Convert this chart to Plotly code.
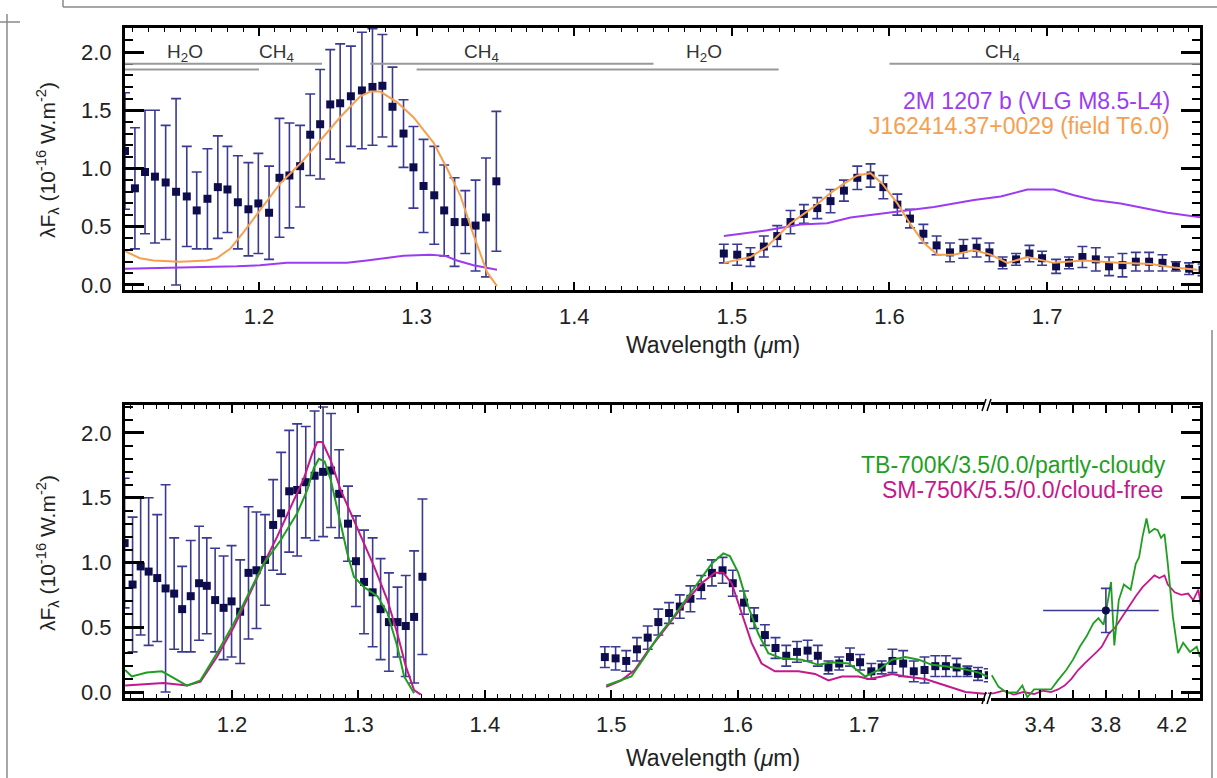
import plotly.graph_objects as go

W, H = 1217, 778

# ---------------- data: observed spectrum ----------------
j_wl = [1.1150, 1.1213, 1.1277, 1.1340, 1.1408, 1.1474, 1.1542, 1.1605, 1.1673, 1.1739,
        1.1800, 1.1866, 1.1933, 1.1996, 1.2064, 1.2130, 1.2193, 1.2261, 1.2325, 1.2388,
        1.2452, 1.2515, 1.2583, 1.2653, 1.2720, 1.2783, 1.2847, 1.2917, 1.2980, 1.3044,
        1.3112, 1.3175, 1.3241, 1.3309, 1.3374, 1.3440, 1.3506]
j_flux = [1.15, 0.83, 0.97, 0.93, 0.88, 0.80, 0.76, 0.64, 0.74, 0.84,
          0.82, 0.71, 0.65, 0.70, 0.62, 0.92, 0.94, 1.02, 1.29, 1.38,
          1.55, 1.56, 1.62, 1.67, 1.70, 1.71, 1.53, 1.30, 1.01, 0.85,
          0.77, 0.64, 0.54, 0.54, 0.51, 0.58, 0.89]
j_err = [0.50, 0.52, 0.53, 0.57, 0.49, 0.80, 0.43, 0.33, 0.43, 0.44,
         0.37, 0.40, 0.40, 0.43, 0.40, 0.51, 0.45, 0.35, 0.35, 0.47,
         0.47, 0.51, 0.43, 0.50, 0.50, 0.44, 0.34, 0.29, 0.35, 0.40,
         0.42, 0.39, 0.38, 0.27, 0.39, 0.51, 0.60]

h_wl = [1.4949, 1.5034, 1.5118, 1.5203, 1.5288, 1.5372, 1.5457, 1.5542, 1.5626, 1.5711,
        1.5796, 1.5880, 1.5961, 1.6050, 1.6130, 1.6215, 1.6299, 1.6384, 1.6469, 1.6553,
        1.6634, 1.6718, 1.6803, 1.6888, 1.6968, 1.7057, 1.7139, 1.7224, 1.7309, 1.7393,
        1.7478, 1.7563, 1.7647, 1.7732, 1.7817, 1.7901, 1.7986]
h_flux = [0.27, 0.26, 0.24, 0.33, 0.42, 0.54, 0.61, 0.66, 0.72, 0.81,
          0.92, 0.94, 0.84, 0.69, 0.57, 0.44, 0.34, 0.28, 0.31, 0.32,
          0.28, 0.19, 0.22, 0.27, 0.23, 0.16, 0.19, 0.24, 0.22, 0.16,
          0.17, 0.20, 0.20, 0.19, 0.16, 0.14, 0.13]
h_err = [0.08, 0.09, 0.08, 0.09, 0.09, 0.10, 0.08, 0.09, 0.10, 0.09,
         0.10, 0.10, 0.10, 0.09, 0.08, 0.08, 0.08, 0.08, 0.08, 0.08,
         0.08, 0.05, 0.05, 0.07, 0.06, 0.06, 0.05, 0.09, 0.10, 0.08,
         0.10, 0.08, 0.08, 0.07, 0.04, 0.05, 0.05]

l_wl = [3.80]
l_flux = [0.63]
l_err = [0.17]
l_wl_plus = [0.32]
l_wl_minus = [0.38]

# ---------------- comparison objects (top panel) ----------------
m1207_j_wl = [1.115, 1.1542, 1.1859, 1.2007, 1.2177, 1.2304, 1.243, 1.2558, 1.2685, 1.2812,
              1.2917, 1.3087, 1.3182, 1.3256, 1.3361, 1.351]
m1207_j_fl = [0.14, 0.15, 0.16, 0.17, 0.19, 0.19, 0.19, 0.19, 0.21, 0.23,
              0.25, 0.26, 0.25, 0.21, 0.17, 0.13]
m1207_h_wl = [1.4949, 1.5224, 1.5436, 1.5605, 1.5753, 1.5986, 1.6282, 1.6536, 1.6706, 1.6875,
              1.7044, 1.7171, 1.7298, 1.7467, 1.7658, 1.7764, 1.7975]
m1207_h_fl = [0.42, 0.47, 0.52, 0.53, 0.58, 0.62, 0.67, 0.73, 0.76, 0.82,
              0.82, 0.77, 0.73, 0.70, 0.65, 0.62, 0.58]

t6_j_wl = [1.115, 1.1245, 1.133, 1.15, 1.1669, 1.1732, 1.1817, 1.19, 1.2028, 1.2134,
           1.2261, 1.2388, 1.2515, 1.2642, 1.2706, 1.2769, 1.2875, 1.298, 1.3108, 1.3193,
           1.3277, 1.3361, 1.3447, 1.351]
t6_j_fl = [0.29, 0.23, 0.21, 0.20, 0.21, 0.23, 0.31, 0.45, 0.68, 0.87,
           1.04, 1.24, 1.44, 1.62, 1.66, 1.66, 1.57, 1.44, 1.22, 1.00,
           0.77, 0.43, 0.11, -0.01]
t6_h_wl = [1.4949, 1.5118, 1.5224, 1.5372, 1.552, 1.5626, 1.5711, 1.5796, 1.588, 1.5954,
           1.605, 1.6134, 1.6219, 1.6304, 1.6409, 1.6536, 1.6642, 1.6748, 1.6875, 1.7042,
           1.7233, 1.7446, 1.7658, 1.7804, 1.7954]
t6_h_fl = [0.19, 0.24, 0.33, 0.53, 0.67, 0.79, 0.87, 0.94, 0.96, 0.87,
           0.70, 0.52, 0.36, 0.26, 0.26, 0.30, 0.26, 0.19, 0.24, 0.19,
           0.21, 0.19, 0.18, 0.15, 0.13]

# ---------------- atmosphere models (bottom panel) ----------------
sm_j_wl = [1.1154, 1.1273, 1.1458, 1.1643, 1.175, 1.188, 1.2013, 1.2145, 1.225, 1.2357,
           1.2462, 1.2568, 1.2634, 1.2674, 1.2714, 1.278, 1.2859, 1.2938, 1.3017, 1.3123,
           1.3229, 1.3308, 1.3374, 1.344, 1.3493]
sm_j_fl = [0.05, 0.06, 0.07, 0.05, 0.08, 0.27, 0.50, 0.77, 0.99, 1.20,
           1.43, 1.65, 1.84, 1.93, 1.93, 1.79, 1.56, 1.38, 1.20, 0.97,
           0.71, 0.45, 0.20, 0.015, -0.02]
tb_j_wl = [1.1154, 1.1207, 1.1326, 1.1445, 1.1537, 1.1643, 1.175, 1.188, 1.2013, 1.2145,
           1.225, 1.2383, 1.2515, 1.2595, 1.2647, 1.2687, 1.2732, 1.278, 1.2846, 1.2912,
           1.2964, 1.3044, 1.315, 1.3229, 1.3308, 1.3361, 1.344]
tb_j_fl = [0.17, 0.12, 0.15, 0.16, 0.11, 0.05, 0.09, 0.30, 0.53, 0.79,
           0.99, 1.17, 1.38, 1.56, 1.73, 1.80, 1.78, 1.64, 1.35, 1.07,
           0.89, 0.81, 0.74, 0.61, 0.35, 0.12, -0.01]

sm_h_wl = [1.4960, 1.5079, 1.5185, 1.5291, 1.5397, 1.5502, 1.5608, 1.5714, 1.5819, 1.5886,
           1.5952, 1.6031, 1.6110, 1.6189, 1.6295, 1.6481, 1.6612, 1.6718, 1.6824, 1.6956,
           1.7036, 1.7141, 1.7220, 1.7326, 1.7484, 1.7643, 1.7802, 1.7974]
sm_h_fl = [0.04, 0.09, 0.17, 0.32, 0.45, 0.58, 0.72, 0.84, 0.92, 0.92,
           0.84, 0.61, 0.38, 0.22, 0.16, 0.16, 0.14, 0.09, 0.12, 0.12,
           0.10, 0.12, 0.14, 0.12, 0.10, 0.05, 0.00, -0.015]
tb_h_wl = [1.4960, 1.5053, 1.5159, 1.5264, 1.5370, 1.5476, 1.5581, 1.5687, 1.5793, 1.5886,
           1.5938, 1.6005, 1.6084, 1.6163, 1.6242, 1.6347, 1.6506, 1.6639, 1.6744, 1.6877,
           1.7009, 1.7115, 1.7220, 1.7326, 1.7432, 1.7537, 1.7643, 1.7775, 1.7908, 1.7974]
tb_h_fl = [0.05, 0.08, 0.12, 0.27, 0.43, 0.56, 0.70, 0.85, 0.99, 1.07,
           1.05, 0.92, 0.66, 0.45, 0.30, 0.26, 0.25, 0.21, 0.23, 0.22,
           0.12, 0.17, 0.25, 0.27, 0.25, 0.21, 0.20, 0.18, 0.15, 0.12]

tb_l_wl = [3.109, 3.150, 3.201, 3.263, 3.294, 3.324, 3.365, 3.427, 3.468, 3.509,
           3.560, 3.601, 3.642, 3.683, 3.724, 3.755, 3.786, 3.817, 3.831, 3.851,
           3.878, 3.909, 3.950, 3.981, 4.001, 4.022, 4.046, 4.063, 4.094, 4.114,
           4.134, 4.155, 4.175, 4.206, 4.237, 4.268, 4.309, 4.350, 4.370, 4.391]
tb_l_fl = [0.13, 0.04, -0.005, 0.00, 0.05, -0.04, 0.02, 0.02, 0.02, 0.09,
           0.17, 0.25, 0.35, 0.43, 0.53, 0.57, 0.52, 0.74, 0.85, 0.36,
           0.71, 0.83, 0.79, 0.99, 1.04, 1.20, 1.34, 1.23, 1.26, 1.25,
           1.19, 1.22, 0.99, 0.58, 0.30, 0.38, 0.31, 0.35, 0.27, 0.45]
sm_l_wl = [3.086, 3.119, 3.180, 3.242, 3.300, 3.365, 3.420, 3.468, 3.510, 3.550,
           3.590, 3.632, 3.670, 3.714, 3.745, 3.775, 3.817, 3.857, 3.898, 3.940,
           3.981, 4.022, 4.063, 4.094, 4.124, 4.155, 4.175, 4.217, 4.257, 4.298,
           4.329, 4.360, 4.380]
sm_l_fl = [-0.01, -0.01, 0.01, -0.02, 0.00, -0.015, 0.01, 0.00, 0.02, 0.05,
           0.10, 0.17, 0.22, 0.27, 0.31, 0.35, 0.45, 0.50, 0.58, 0.66,
           0.74, 0.81, 0.86, 0.90, 0.88, 0.90, 0.83, 0.77, 0.75, 0.76,
           0.71, 0.79, 0.63]

# ---------------- absorption bands (top panel) ----------------
band_names = ["H<sub>2</sub>O", "CH<sub>4</sub>", "CH<sub>4</sub>", "H<sub>2</sub>O", "CH<sub>4</sub>"]
band_start = [1.115, 1.115, 1.2706, 1.300, 1.600]
band_end = [1.200, 1.240, 1.4503, 1.5297, 1.797]
band_level = [1.85, 1.90, 1.90, 1.85, 1.90]
band_label_x = [1.153, 1.2113, 1.3414, 1.4826, 1.6716]
band_label_y = 1.99

# ---------------- colours ----------------
NAVY = "#0d0d4d"
ERRC = "#3a3a90"
PURPLE = "#9c3cf2"
ORANGE = "#f5a050"
GREEN = "#1f9f1f"
MAGENTA = "#c3198c"
FONT = "Liberation Sans, Arial, Helvetica, sans-serif"


def px_x(p):
    return p / W


def px_y(p):
    return 1 - p / H


X0, X1, XB = px_x(125), px_x(1200), px_x(988)
TOP_DOM = [px_y(290), px_y(28)]
BOT_DOM = [px_y(698), px_y(405)]
YR_TOP = [-0.043, 2.206]
YR_BOT = [-0.046, 2.216]

fig = go.Figure()


def data_trace(x, y, e, xa, ya, symbol="square"):
    return go.Scatter(x=x, y=y, mode="markers", xaxis=xa, yaxis=ya, showlegend=False,
                      marker=dict(symbol=symbol, size=8, color=NAVY),
                      error_y=dict(type="data", array=e, color=ERRC, thickness=1.6, width=5))


def line_trace(x, y, color, xa, ya, width=2):
    return go.Scatter(x=x, y=y, mode="lines", xaxis=xa, yaxis=ya, showlegend=False,
                      line=dict(color=color, width=width))


# top panel
fig.add_trace(data_trace(j_wl, j_flux, j_err, "x", "y"))
fig.add_trace(data_trace(h_wl, h_flux, h_err, "x", "y"))
fig.add_trace(line_trace(m1207_j_wl, m1207_j_fl, PURPLE, "x", "y"))
fig.add_trace(line_trace(m1207_h_wl, m1207_h_fl, PURPLE, "x", "y"))
fig.add_trace(line_trace(t6_j_wl, t6_j_fl, ORANGE, "x", "y"))
fig.add_trace(line_trace(t6_h_wl, t6_h_fl, ORANGE, "x", "y"))

# bottom panel, first segment
fig.add_trace(data_trace(j_wl, j_flux, j_err, "x3", "y2"))
fig.add_trace(data_trace(h_wl, h_flux, h_err, "x3", "y2"))
fig.add_trace(line_trace(sm_j_wl, sm_j_fl, MAGENTA, "x3", "y2"))
fig.add_trace(line_trace(tb_j_wl, tb_j_fl, GREEN, "x3", "y2"))
fig.add_trace(line_trace(sm_h_wl, sm_h_fl, MAGENTA, "x3", "y2"))
fig.add_trace(line_trace(tb_h_wl, tb_h_fl, GREEN, "x3", "y2"))

# bottom panel, L band
fig.add_trace(line_trace(sm_l_wl, sm_l_fl, MAGENTA, "x4", "y3", 1.8))
fig.add_trace(line_trace(tb_l_wl, tb_l_fl, GREEN, "x4", "y3", 1.8))
fig.add_trace(go.Scatter(x=l_wl, y=l_flux, mode="markers", xaxis="x4", yaxis="y3", showlegend=False,
                         marker=dict(symbol="circle", size=8, color=NAVY),
                         error_y=dict(type="data", array=l_err, color=ERRC, thickness=1.6, width=5),
                         error_x=dict(type="data", array=l_wl_plus, arrayminus=l_wl_minus,
                                      color=ERRC, thickness=1.6, width=0)))

tickfont = dict(family=FONT, size=22, color="#222")


def xaxis(domain, anchor, rng, tickvals, ticktext, minor_dtick, minor_tick0):
    return dict(domain=domain, anchor=anchor, range=rng, showline=True, linewidth=3,
                linecolor="black", mirror="ticks", ticks="inside", ticklen=8, tickwidth=2,
                tickcolor="black", tickmode="array", tickvals=tickvals, ticktext=ticktext,
                minor=dict(ticks="inside", ticklen=4, tickwidth=1.2, tickcolor="black",
                           dtick=minor_dtick, tick0=minor_tick0, showgrid=False),
                showgrid=False, zeroline=False, tickfont=tickfont, ticklabelstandoff=5,
                automargin=False)


def yaxis(domain, anchor, rng, side="left", labels=True, mirror="ticks"):
    return dict(domain=domain, anchor=anchor, range=rng, side=side, showline=True, linewidth=3,
                linecolor="black", mirror=mirror, ticks="inside", ticklen=19, tickwidth=2.5,
                tickcolor="black", tickmode="array", tickvals=[0, 0.5, 1.0, 1.5, 2.0],
                ticktext=["0.0", "0.5", "1.0", "1.5", "2.0"], showticklabels=labels,
                minor=dict(ticks="inside", ticklen=8, tickwidth=2, tickcolor="black",
                           dtick=0.1, tick0=0, showgrid=False),
                showgrid=False, zeroline=False, tickfont=tickfont, ticklabelstandoff=6,
                automargin=False)


main_ticks = [1.2, 1.3, 1.4, 1.5, 1.6, 1.7]
main_text = ["1.2", "1.3", "1.4", "1.5", "1.6", "1.7"]
l_ticks = [3.2, 3.4, 3.6, 3.8, 4.0, 4.2]
l_text = ["", "3.4", "", "3.8", "", "4.2"]

fig.update_layout(
    width=W, height=H, margin=dict(l=0, r=0, t=0, b=0),
    paper_bgcolor="white", plot_bgcolor="white", template="none",
    font=dict(family=FONT, color="#222"),
    xaxis=xaxis([X0, X1], "y", [1.115, 1.797], main_ticks, main_text, 0.01, 1.0),
    yaxis=yaxis(TOP_DOM, "x", YR_TOP),
    xaxis3=xaxis([X0, XB], "y2", [1.1153, 1.798], main_ticks, main_text, 0.01, 1.0),
    yaxis2=yaxis(BOT_DOM, "x3", YR_BOT, mirror=False),
    xaxis4=xaxis([XB, X1], "y3", [3.086, 4.37], l_ticks, l_text, 0.1, 3.0),
    yaxis3=yaxis(BOT_DOM, "x4", YR_BOT, side="right", labels=False, mirror=False),
)

shapes = []
annotations = []

# absorption band bars and labels
for name, s, e, lvl, lx in zip(band_names, band_start, band_end, band_level, band_label_x):
    shapes.append(dict(type="line", xref="x", yref="y", x0=s, x1=e, y0=lvl, y1=lvl,
                       line=dict(color="#999999", width=2)))
    annotations.append(dict(xref="x", yref="y", x=lx, y=band_label_y, text=name, showarrow=False,
                            xanchor="center", yanchor="middle",
                            font=dict(family=FONT, size=19, color="#333")))

# axis titles
ytitle = "λF<sub>λ</sub> (10<sup>-16</sup> W.m<sup>-2</sup>)"
for yc in (px_y(160), px_y(553)):
    annotations.append(dict(xref="paper", yref="paper", x=px_x(47), y=yc, text=ytitle,
                            textangle=-90, showarrow=False, xanchor="center", yanchor="middle",
                            font=dict(family=FONT, size=21, color="#222")))
for yc in (px_y(345), px_y(758)):
    annotations.append(dict(xref="paper", yref="paper", x=px_x(713), y=yc,
                            text="Wavelength (<i>μ</i>m)", showarrow=False,
                            xanchor="center", yanchor="middle",
                            font=dict(family=FONT, size=23, color="#222")))

# legends
legend_items = [
    ("2M 1207 b (VLG M8.5-L4)", PURPLE, 1172, 101),
    ("J162414.37+0029 (field T6.0)", ORANGE, 1172, 126),
    ("TB-700K/3.5/0.0/partly-cloudy", GREEN, 1168, 465),
    ("SM-750K/5.5/0.0/cloud-free", MAGENTA, 1165, 490),
]
for txt, col, xr, yc in legend_items:
    annotations.append(dict(xref="paper", yref="paper", x=px_x(xr), y=px_y(yc), text=txt,
                            xanchor="right", yanchor="middle", showarrow=False,
                            font=dict(family=FONT, size=23, color=col)))

# axis break marks on the lower panel
for yb in (405, 698):
    shapes.append(dict(type="rect", xref="paper", yref="paper", x0=px_x(985), x1=px_x(991),
                       y0=px_y(yb + 4), y1=px_y(yb - 4), fillcolor="white", line=dict(width=0)))
    for dx in (-3, 2):
        shapes.append(dict(type="line", xref="paper", yref="paper",
                           x0=px_x(985 + dx), x1=px_x(989 + dx), y0=px_y(yb + 6), y1=px_y(yb - 6),
                           line=dict(color="black", width=1.5)))

# scanned page frame lines
frame = [
    (63, 7, 1217, 7), (63, 0, 63, 7), (7, 14, 7, 778), (0, 22, 20, 22), (1212, 330, 1212, 778),
]
for xa, ya, xb, yb in frame:
    shapes.append(dict(type="line", xref="paper", yref="paper", x0=px_x(xa), x1=px_x(xb),
                       y0=px_y(ya), y1=px_y(yb), line=dict(color="#8a8a8a", width=1.5)))

fig.update_layout(shapes=shapes, annotations=annotations)
fig.write_html("out.html")
